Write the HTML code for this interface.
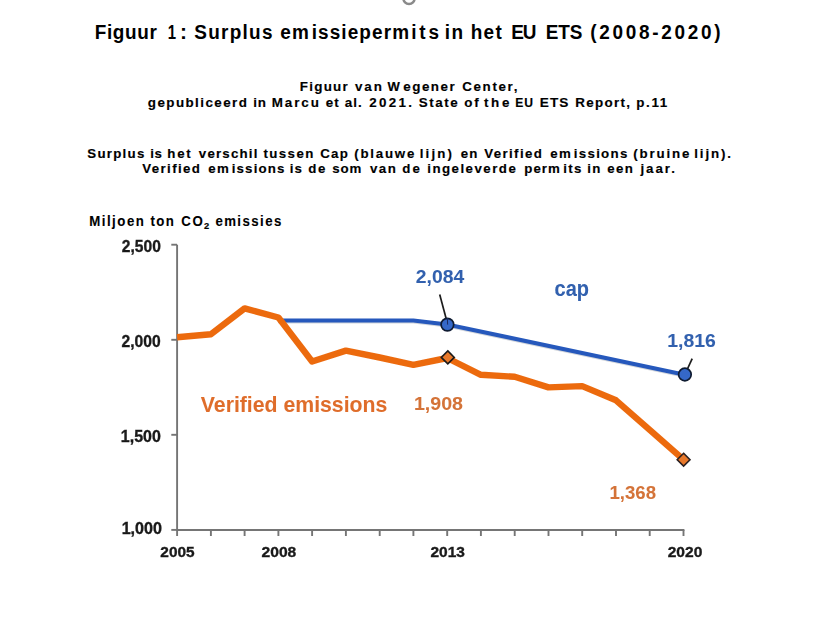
<!DOCTYPE html>
<html><head><meta charset="utf-8"><style>
html,body{margin:0;padding:0;background:#fff;width:815px;height:617px;overflow:hidden}
svg{display:block;font-family:"Liberation Sans",sans-serif}
</style></head><body>
<svg width="815" height="617" viewBox="0 0 815 617">
<defs><filter id="bl" x="-5%" y="-5%" width="110%" height="110%"><feGaussianBlur stdDeviation="0.35"/></filter></defs>
<circle cx="409" cy="-1.6" r="5.6" fill="none" stroke="#8a8a8a" stroke-width="2.5"/>
<g font-weight="bold" fill="#000">
<text transform="matrix(0.93 0 0 1 94.68 38.9)" font-size="20.4" letter-spacing="1.0" textLength="67.87" lengthAdjust="spacing">Figuur</text>
<text transform="matrix(0.93 0 0 1 167.76 38.9)" font-size="20.4" letter-spacing="1.0" textLength="9.70" lengthAdjust="spacingAndGlyphs">1</text>
<text transform="matrix(0.93 0 0 1 180.06 38.9)" font-size="20.4" letter-spacing="1.0" textLength="8.60" lengthAdjust="spacingAndGlyphs">:</text>
<text transform="matrix(0.93 0 0 1 194.24 38.9)" font-size="20.4" letter-spacing="1.0" textLength="85.10" lengthAdjust="spacing">Surplus</text>
<text transform="matrix(0.93 0 0 1 280.22 38.9)" font-size="20.4" letter-spacing="1.0" textLength="31.94" lengthAdjust="spacing">em</text>
<text transform="matrix(0.93 0 0 1 311.70 38.9)" font-size="20.4" letter-spacing="1.0" textLength="105.66" lengthAdjust="spacing">issieperm</text>
<text transform="matrix(0.93 0 0 1 411.20 38.9)" font-size="20.4" letter-spacing="1.0" textLength="30.90" lengthAdjust="spacing">its</text>
<text transform="matrix(0.93 0 0 1 444.70 38.9)" font-size="20.4" letter-spacing="1.0" textLength="20.71" lengthAdjust="spacing">in</text>
<text transform="matrix(0.93 0 0 1 470.64 38.9)" font-size="20.4" letter-spacing="1.0" textLength="34.56" lengthAdjust="spacing">het</text>
<text transform="matrix(0.93 0 0 1 511.20 38.9)" font-size="20.4" letter-spacing="1.0" textLength="28.19" lengthAdjust="spacing">EU</text>
<text transform="matrix(0.93 0 0 1 545.74 38.9)" font-size="20.4" letter-spacing="1.0" textLength="40.47" lengthAdjust="spacing">ETS</text>
<text transform="matrix(0.93 0 0 1 590.22 38.9)" font-size="20.4" letter-spacing="1.0" textLength="141.08" lengthAdjust="spacing">(2008-2020)</text>
<text transform="matrix(1.0 0 0 1 299.76 91.2)" font-size="13.4" letter-spacing="1.0" stroke="#000" stroke-width="0.15" textLength="49.04" lengthAdjust="spacing">Figuur</text>
<text transform="matrix(1.0 0 0 1 354.88 91.2)" font-size="13.4" letter-spacing="1.0" stroke="#000" stroke-width="0.15" textLength="27.94" lengthAdjust="spacing">van</text>
<text transform="matrix(1.0 0 0 1 387.40 91.2)" font-size="13.4" letter-spacing="1.0" stroke="#000" stroke-width="0.15" textLength="13.34" lengthAdjust="spacingAndGlyphs">W</text>
<text transform="matrix(1.0 0 0 1 403.26 91.2)" font-size="13.4" letter-spacing="1.0" stroke="#000" stroke-width="0.15" textLength="52.50" lengthAdjust="spacing">egener</text>
<text transform="matrix(1.0 0 0 1 462.28 91.2)" font-size="13.4" letter-spacing="1.0" stroke="#000" stroke-width="0.15" textLength="56.12" lengthAdjust="spacing">Center,</text>
<text transform="matrix(1.0 0 0 1 147.82 106.9)" font-size="13.4" letter-spacing="1.0" stroke="#000" stroke-width="0.15" textLength="100.06" lengthAdjust="spacing">gepubliceerd</text>
<text transform="matrix(1.0 0 0 1 253.26 106.9)" font-size="13.4" letter-spacing="1.0" stroke="#000" stroke-width="0.15" textLength="13.64" lengthAdjust="spacing">in</text>
<text transform="matrix(1.0 0 0 1 271.78 106.9)" font-size="13.4" letter-spacing="1.0" stroke="#000" stroke-width="0.15" textLength="48.12" lengthAdjust="spacing">Marcu</text>
<text transform="matrix(1.0 0 0 1 325.84 106.9)" font-size="13.4" letter-spacing="1.0" stroke="#000" stroke-width="0.15" textLength="13.94" lengthAdjust="spacing">et</text>
<text transform="matrix(1.0 0 0 1 344.80 106.9)" font-size="13.4" letter-spacing="1.0" stroke="#000" stroke-width="0.15" textLength="18.02" lengthAdjust="spacing">al.</text>
<text transform="matrix(1.0 0 0 1 369.28 106.9)" font-size="13.4" letter-spacing="1.0" stroke="#000" stroke-width="0.15" textLength="43.62" lengthAdjust="spacing">2021.</text>
<text transform="matrix(1.0 0 0 1 418.82 106.9)" font-size="13.4" letter-spacing="1.0" stroke="#000" stroke-width="0.15" textLength="40.00" lengthAdjust="spacing">State</text>
<text transform="matrix(1.0 0 0 1 464.32 106.9)" font-size="13.4" letter-spacing="1.0" stroke="#000" stroke-width="0.15" textLength="15.46" lengthAdjust="spacing">of</text>
<text transform="matrix(1.0 0 0 1 483.88 106.9)" font-size="13.4" letter-spacing="1.0" stroke="#000" stroke-width="0.15" textLength="26.46" lengthAdjust="spacing">the</text>
<text transform="matrix(1.0 0 0 1 515.20 106.9)" font-size="13.4" letter-spacing="1.0" stroke="#000" stroke-width="0.15" textLength="18.62" lengthAdjust="spacingAndGlyphs">EU</text>
<text transform="matrix(1.0 0 0 1 539.76 106.9)" font-size="13.4" letter-spacing="1.0" stroke="#000" stroke-width="0.15" textLength="29.60" lengthAdjust="spacingAndGlyphs">ETS</text>
<text transform="matrix(1.0 0 0 1 575.30 106.9)" font-size="13.4" letter-spacing="1.0" stroke="#000" stroke-width="0.15" textLength="55.66" lengthAdjust="spacing">Report,</text>
<text transform="matrix(1.0 0 0 1 636.28 106.9)" font-size="13.4" letter-spacing="1.0" stroke="#000" stroke-width="0.15" textLength="32.02" lengthAdjust="spacing">p.11</text>
<text transform="matrix(1.0 0 0 1 87.36 157.8)" font-size="13.3" letter-spacing="1.0" stroke="#000" stroke-width="0.15" textLength="57.94" lengthAdjust="spacing">Surplus</text>
<text transform="matrix(1.0 0 0 1 150.30 157.8)" font-size="13.3" letter-spacing="1.0" stroke="#000" stroke-width="0.15" textLength="12.58" lengthAdjust="spacing">is</text>
<text transform="matrix(1.0 0 0 1 167.20 157.8)" font-size="13.3" letter-spacing="1.0" stroke="#000" stroke-width="0.15" textLength="24.60" lengthAdjust="spacing">het</text>
<text transform="matrix(1.0 0 0 1 198.84 157.8)" font-size="13.3" letter-spacing="1.0" stroke="#000" stroke-width="0.15" textLength="59.56" lengthAdjust="spacing">verschil</text>
<text transform="matrix(1.0 0 0 1 263.38 157.8)" font-size="13.3" letter-spacing="1.0" stroke="#000" stroke-width="0.15" textLength="50.98" lengthAdjust="spacing">tussen</text>
<text transform="matrix(1.0 0 0 1 320.30 157.8)" font-size="13.3" letter-spacing="1.0" stroke="#000" stroke-width="0.15" textLength="28.54" lengthAdjust="spacing">Cap</text>
<text transform="matrix(1.0 0 0 1 354.28 157.8)" font-size="13.3" letter-spacing="1.0" stroke="#000" stroke-width="0.15" textLength="61.08" lengthAdjust="spacing">(blauwe</text>
<text transform="matrix(1.0 0 0 1 419.78 157.8)" font-size="13.3" letter-spacing="1.0" stroke="#000" stroke-width="0.15" textLength="33.08" lengthAdjust="spacing">lijn)</text>
<text transform="matrix(1.0 0 0 1 460.82 157.8)" font-size="13.3" letter-spacing="1.0" stroke="#000" stroke-width="0.15" textLength="17.56" lengthAdjust="spacing">en</text>
<text transform="matrix(1.0 0 0 1 484.32 157.8)" font-size="13.3" letter-spacing="1.0" stroke="#000" stroke-width="0.15" textLength="58.50" lengthAdjust="spacing">Verified</text>
<text transform="matrix(1.0 0 0 1 550.34 157.8)" font-size="13.3" letter-spacing="1.0" stroke="#000" stroke-width="0.15" textLength="21.56" lengthAdjust="spacing">em</text>
<text transform="matrix(1.0 0 0 1 573.76 157.8)" font-size="13.3" letter-spacing="1.0" stroke="#000" stroke-width="0.15" textLength="54.60" lengthAdjust="spacing">issions</text>
<text transform="matrix(1.0 0 0 1 633.34 157.8)" font-size="13.3" letter-spacing="1.0" stroke="#000" stroke-width="0.15" textLength="57.02" lengthAdjust="spacing">(bruine</text>
<text transform="matrix(1.0 0 0 1 694.32 157.8)" font-size="13.3" letter-spacing="1.0" stroke="#000" stroke-width="0.15" textLength="37.60" lengthAdjust="spacing">lijn).</text>
<text transform="matrix(1.0 0 0 1 142.32 173.1)" font-size="13.3" letter-spacing="1.0" stroke="#000" stroke-width="0.15" textLength="58.52" lengthAdjust="spacing">Verified</text>
<text transform="matrix(1.0 0 0 1 208.26 173.1)" font-size="13.3" letter-spacing="1.0" stroke="#000" stroke-width="0.15" textLength="21.64" lengthAdjust="spacing">em</text>
<text transform="matrix(1.0 0 0 1 231.76 173.1)" font-size="13.3" letter-spacing="1.0" stroke="#000" stroke-width="0.15" textLength="53.60" lengthAdjust="spacing">issions</text>
<text transform="matrix(1.0 0 0 1 289.78 173.1)" font-size="13.3" letter-spacing="1.0" stroke="#000" stroke-width="0.15" textLength="13.06" lengthAdjust="spacing">is</text>
<text transform="matrix(1.0 0 0 1 308.30 173.1)" font-size="13.3" letter-spacing="1.0" stroke="#000" stroke-width="0.15" textLength="18.02" lengthAdjust="spacing">de</text>
<text transform="matrix(1.0 0 0 1 332.32 173.1)" font-size="13.3" letter-spacing="1.0" stroke="#000" stroke-width="0.15" textLength="30.06" lengthAdjust="spacing">som</text>
<text transform="matrix(1.0 0 0 1 369.96 173.1)" font-size="13.3" letter-spacing="1.0" stroke="#000" stroke-width="0.15" textLength="26.90" lengthAdjust="spacing">van</text>
<text transform="matrix(1.0 0 0 1 402.34 173.1)" font-size="13.3" letter-spacing="1.0" stroke="#000" stroke-width="0.15" textLength="18.46" lengthAdjust="spacing">de</text>
<text transform="matrix(1.0 0 0 1 427.26 173.1)" font-size="13.3" letter-spacing="1.0" stroke="#000" stroke-width="0.15" textLength="89.54" lengthAdjust="spacing">ingeleverde</text>
<text transform="matrix(1.0 0 0 1 524.32 173.1)" font-size="13.3" letter-spacing="1.0" stroke="#000" stroke-width="0.15" textLength="36.52" lengthAdjust="spacing">perm</text>
<text transform="matrix(1.0 0 0 1 563.32 173.1)" font-size="13.3" letter-spacing="1.0" stroke="#000" stroke-width="0.15" textLength="19.06" lengthAdjust="spacing">its</text>
<text transform="matrix(1.0 0 0 1 587.26 173.1)" font-size="13.3" letter-spacing="1.0" stroke="#000" stroke-width="0.15" textLength="14.10" lengthAdjust="spacing">in</text>
<text transform="matrix(1.0 0 0 1 607.34 173.1)" font-size="13.3" letter-spacing="1.0" stroke="#000" stroke-width="0.15" textLength="26.46" lengthAdjust="spacing">een</text>
<text transform="matrix(1.0 0 0 1 640.40 173.1)" font-size="13.3" letter-spacing="1.0" stroke="#000" stroke-width="0.15" textLength="35.46" lengthAdjust="spacing">jaar.</text>
<text transform="matrix(0.96 0 0 1 89.20 225.8)" font-size="13.8" letter-spacing="1.0" stroke="#000" stroke-width="0.1" textLength="57.92" lengthAdjust="spacing">Miljoen</text>
<text transform="matrix(0.96 0 0 1 150.38 225.8)" font-size="13.8" letter-spacing="1.0" stroke="#000" stroke-width="0.1" textLength="25.50" lengthAdjust="spacing">ton</text>
<text transform="matrix(0.96 0 0 1 181.32 225.8)" font-size="13.8" letter-spacing="1.0" stroke="#000" stroke-width="0.1" textLength="23.42" lengthAdjust="spacing">CO</text>
<text transform="matrix(0.96 0 0 1 215.38 225.8)" font-size="13.8" letter-spacing="1.0" stroke="#000" stroke-width="0.1" textLength="69.75" lengthAdjust="spacing">emissies</text>
<text x="204" y="229" font-size="9.3" stroke="#000" stroke-width="0.2">2</text>
</g>
<g filter="url(#bl)">
<g stroke="#747474" stroke-width="1.9" fill="none">
<line x1="177.1" y1="244.7" x2="177.1" y2="530"/>
<line x1="176.2" y1="530" x2="684.4" y2="530"/>
<line x1="177.1" y1="530" x2="177.1" y2="536"/><line x1="210.9" y1="530" x2="210.9" y2="536"/><line x1="244.6" y1="530" x2="244.6" y2="536"/><line x1="278.4" y1="530" x2="278.4" y2="536"/><line x1="312.1" y1="530" x2="312.1" y2="536"/><line x1="345.9" y1="530" x2="345.9" y2="536"/><line x1="379.7" y1="530" x2="379.7" y2="536"/><line x1="413.4" y1="530" x2="413.4" y2="536"/><line x1="447.2" y1="530" x2="447.2" y2="536"/><line x1="480.9" y1="530" x2="480.9" y2="536"/><line x1="514.7" y1="530" x2="514.7" y2="536"/><line x1="548.5" y1="530" x2="548.5" y2="536"/><line x1="582.2" y1="530" x2="582.2" y2="536"/><line x1="616.0" y1="530" x2="616.0" y2="536"/><line x1="649.7" y1="530" x2="649.7" y2="536"/><line x1="683.5" y1="530" x2="683.5" y2="536"/><line x1="171.3" y1="244.7" x2="177.1" y2="244.7"/><line x1="171.3" y1="339.8" x2="177.1" y2="339.8"/><line x1="171.3" y1="434.8" x2="177.1" y2="434.8"/><line x1="171.3" y1="529.9" x2="177.1" y2="529.9"/>
</g>
<g font-weight="bold">
<text x="121.86" y="251.6" font-size="16.00" fill="#1a1a1a" stroke="#1a1a1a" stroke-width="0.35" textLength="38.94" lengthAdjust="spacingAndGlyphs">2,500</text>
<text x="121.52" y="346.6" font-size="16.00" fill="#1a1a1a" stroke="#1a1a1a" stroke-width="0.35" textLength="39.12" lengthAdjust="spacingAndGlyphs">2,000</text>
<text x="120.82" y="441.5" font-size="16.00" fill="#1a1a1a" stroke="#1a1a1a" stroke-width="0.35" textLength="39.98" lengthAdjust="spacingAndGlyphs">1,500</text>
<text x="121.66" y="534.4" font-size="16.00" fill="#1a1a1a" stroke="#1a1a1a" stroke-width="0.35" textLength="40.34" lengthAdjust="spacingAndGlyphs">1,000</text>
<text x="160.36" y="557" font-size="14.90" fill="#1a1a1a" stroke="#1a1a1a" stroke-width="0.35" textLength="34.28" lengthAdjust="spacingAndGlyphs">2005</text>
<text x="261.50" y="557" font-size="14.90" fill="#1a1a1a" stroke="#1a1a1a" stroke-width="0.35" textLength="34.80" lengthAdjust="spacingAndGlyphs">2008</text>
<text x="430.50" y="556.5" font-size="14.90" fill="#1a1a1a" stroke="#1a1a1a" stroke-width="0.35" textLength="34.48" lengthAdjust="spacingAndGlyphs">2013</text>
<text x="667.70" y="556.5" font-size="14.90" fill="#1a1a1a" stroke="#1a1a1a" stroke-width="0.35" textLength="34.62" lengthAdjust="spacingAndGlyphs">2020</text>
<text x="415.82" y="282.9" font-size="18.00" fill="#3060AE" stroke="#3060AE" stroke-width="0.05" textLength="48.32" lengthAdjust="spacingAndGlyphs">2,084</text>
<text x="667.30" y="346.6" font-size="18.00" fill="#3060AE" stroke="#3060AE" stroke-width="0.05" textLength="48.54" lengthAdjust="spacingAndGlyphs">1,816</text>
<text x="554.50" y="295.8" font-size="21.60" fill="#3060AE" stroke="#3060AE" stroke-width="0.05" textLength="34.50" lengthAdjust="spacingAndGlyphs">cap</text>
<text x="413.98" y="409.8" font-size="18.00" fill="#D47338" stroke="#D47338" stroke-width="0.05" textLength="49.04" lengthAdjust="spacingAndGlyphs">1,908</text>
<text x="609.50" y="498.9" font-size="18.00" fill="#D47338" stroke="#D47338" stroke-width="0.05" textLength="46.52" lengthAdjust="spacingAndGlyphs">1,368</text>
<text x="200.84" y="411.8" font-size="21.40" fill="#DF6D2C" stroke="#DF6D2C" stroke-width="0.05" textLength="186.50" lengthAdjust="spacingAndGlyphs">Verified emissions</text>
</g>
<polyline points="278.4,322.3 413.4,322.3 447.2,326.3 683.5,376.3" fill="none" stroke="#9aa0ac" stroke-opacity="0.45" stroke-width="2.5" stroke-linejoin="round"/>
<polyline points="278.4,320.5 413.4,320.5 447.2,324.5 683.5,374.5" fill="none" stroke="#2559BC" stroke-width="4.1" stroke-linejoin="round"/>
<polyline points="177.1,337.3 210.9,334.2 244.6,308.4 278.4,317.5 312.1,361.5 345.9,350.6 379.7,357.5 413.4,364.8 447.2,358.0 480.9,374.8 514.7,376.8 548.5,387.4 582.2,386.1 616.0,400.3 649.7,429.8 683.5,459.7" fill="none" stroke="#EC6A0F" stroke-width="6.4" stroke-linejoin="round"/>
<line x1="439.7" y1="294.5" x2="447.6" y2="324" stroke="#1e1e1e" stroke-width="1.7"/>
<line x1="692.2" y1="358.6" x2="684.9" y2="374.5" stroke="#1e1e1e" stroke-width="1.7"/>
<circle cx="447.4" cy="324.6" r="6.3" fill="#3468C8" stroke="#111a30" stroke-width="1.7"/>
<circle cx="684.9" cy="374.5" r="6.3" fill="#3468C8" stroke="#111a30" stroke-width="1.7"/>
<line x1="447.4" y1="318" x2="447.6" y2="324.6" stroke="#1a2a60" stroke-width="1"/>
<path d="M447.8 350.9 L454.3 357.4 L447.8 363.9 L441.3 357.4 Z" fill="#E8782A" stroke="#1a1a1a" stroke-width="1.6"/>
<path d="M683.6 453.3 L690 459.7 L683.6 466.1 L677.2 459.7 Z" fill="#E8782A" stroke="#2a2020" stroke-width="1.6"/>
</g>
</svg>
</body></html>
